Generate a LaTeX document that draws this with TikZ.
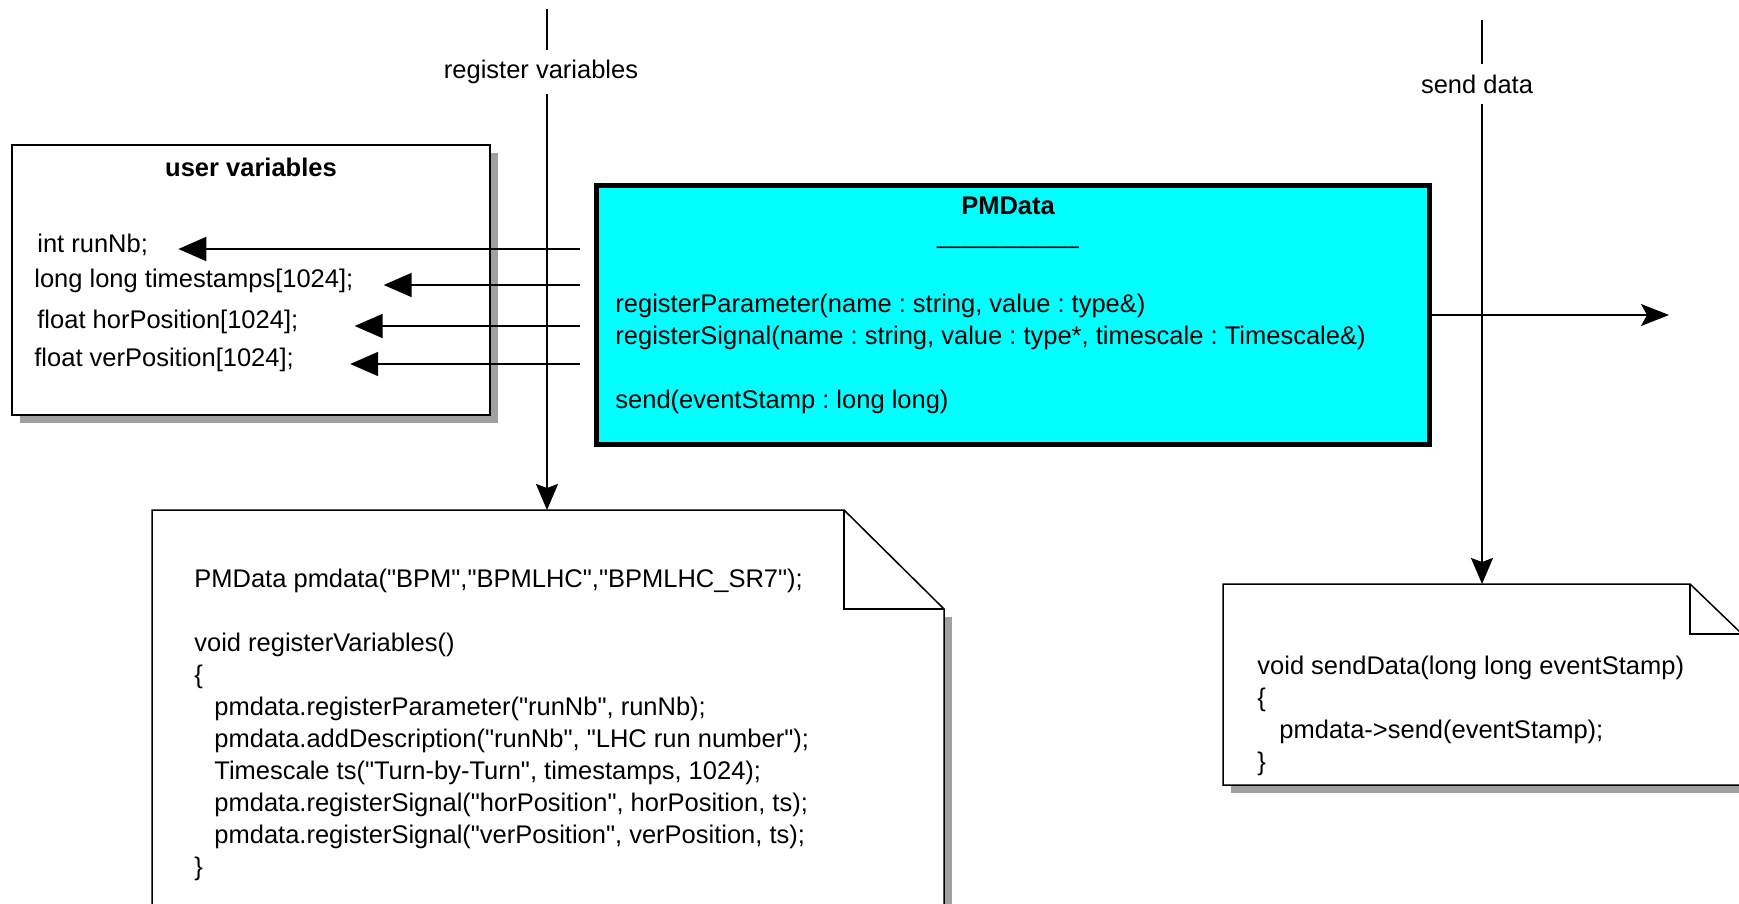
\documentclass[tikz,border=0pt]{standalone}
\usepackage{fontspec}
\setmainfont{Liberation Sans}
\usepackage{xcolor}
\definecolor{pmCyan}{HTML}{00FFFF}
\definecolor{pmShadow}{HTML}{A0A0A0}
\usetikzlibrary{arrows.meta,positioning,shadows,calc}
% straight double quote, kept out of the TeX quote mapping
\newcommand{\dq}{\XeTeXglyph\XeTeXcharglyph"22\relax}
\frenchspacing
\tikzset{
    txt/.style={
        inner sep=0pt,
        align=left,
        font=\fontsize{12.75pt}{16pt}\selectfont
    },
    boldtxt/.style={
        txt,
        font=\fontsize{12.75pt}{16pt}\selectfont\bfseries
    },
    varbox/.style={
        draw,
        line width=0.85pt,
        fill=white,
        minimum width=239pt,
        minimum height=135pt,
        drop shadow={shadow xshift=4pt, shadow yshift=-4pt, fill=pmShadow, opacity=1}
    },
    classbox/.style={
        draw,
        line width=2.6pt,
        fill=pmCyan,
        minimum width=416.5pt,
        minimum height=129.5pt
    },
    notebox/.style={
        draw,
        line width=0.75pt,
        fill=white
    },
    flowlabel/.style={
        txt,
        fill=white,
        inner xsep=2pt,
        inner ysep=5pt
    },
    getarrow/.style={
        -{Triangle[length=14pt, width=12pt]},
        line width=1pt
    },
    downarrow/.style={
        -{Stealth[length=13pt, width=11pt, inset=2pt]},
        line width=1pt
    },
    outarrow/.style={
        -{Stealth[length=14pt, width=11pt, inset=3pt]},
        line width=0.65pt
    }
}

\begin{document}
\begin{tikzpicture}[x=0.5pt, y=-0.5pt]
    \useasboundingbox (0,0) rectangle (1739,904);
    \clip (0,0) rectangle (1739,904);

    % User variables
    \node[varbox] (uservars) at (251,280) {};
    \node[boldtxt] (uvtitle) at (251,167) {user variables};
    \node[txt, anchor=base west] (runnb) at (37,252) {int runNb;};
    \node[txt, anchor=base west] (stamps) at (34,287) {long long timestamps[1024];};
    \node[txt, anchor=base west] (horpos) at (37,328) {float horPosition[1024];};
    \node[txt, anchor=base west] (verpos) at (34,366) {float verPosition[1024];};

    % PMData class
    \node[classbox] (pmdata) at (1013,315) {};
    \node[boldtxt] (pmtitle) at (1008,206) {PMData};
    \node[txt, anchor=base] (pmrule) at (1008,243) {\_\_\_\_\_\_\_\_\_\_};
    \node[txt, anchor=north west] (pmmethods) at (615,294) {registerParameter(name : string, value : type\&)\\
        registerSignal(name : string, value : type*, timescale : Timescale\&)\\[16pt]
        send(eventStamp : long long)};

    % Registration note
    \coordinate (codeNW) at (152,510);
    \fill[pmShadow] (160,617) rectangle (952,968);
    \draw[notebox] (152,510) -- (844,510) -- (944,609) -- (944,960) -- (152,960) -- cycle;
    \draw[notebox, fill=none] (844,510) -- (844,609) -- (944,609);
    \node[txt, anchor=north west] (regcode) at (194,569) {PMData pmdata(\dq BPM\dq,\dq BPMLHC\dq,\dq BPMLHC\_SR7\dq);\\[16pt]
        void registerVariables()\\
        \{\\
        \hspace*{10pt}pmdata.registerParameter(\dq runNb\dq, runNb);\\
        \hspace*{10pt}pmdata.addDescription(\dq runNb\dq, \dq LHC run number\dq);\\
        \hspace*{10pt}Timescale ts(\dq Turn-by-Turn\dq, timestamps, 1024);\\
        \hspace*{10pt}pmdata.registerSignal(\dq horPosition\dq, horPosition, ts);\\
        \hspace*{10pt}pmdata.registerSignal(\dq verPosition\dq, verPosition, ts);\\
        \}};

    % Send note
    \coordinate (sendNW) at (1223,584);
    \fill[pmShadow] (1231,644) rectangle (1750,793);
    \draw[notebox] (1223,584) -- (1690,584) -- (1742,634) -- (1742,785) -- (1223,785) -- cycle;
    \draw[notebox, fill=none] (1690,584) -- (1690,634) -- (1742,634);
    \node[txt, anchor=north west] (sendcode) at (1257,656) {void sendData(long long eventStamp)\\
        \{\\
        \hspace*{11pt}pmdata->send(eventStamp);\\
        \}};

    % Register variables flow
    \coordinate (regtop) at (547,9);
    \node[flowlabel] (reglabel) at (541,72) {register variables};
    \draw[line width=1pt] (regtop) -- (regtop |- reglabel.north);
    \draw[downarrow] (regtop |- reglabel.south) -- (regtop |- codeNW);

    % Send data flow
    \coordinate (sendtop) at (1482,20);
    \node[flowlabel] (sendlabel) at (1477,84) {send data};
    \draw[line width=1pt] (sendtop) -- (sendtop |- sendlabel.north);
    \draw[downarrow] (sendtop |- sendlabel.south) -- (sendtop |- sendNW);

    % Values into user variables
    \foreach \var/\ya/\gap in {runnb/249/30, stamps/285/30, horpos/326/56, verpos/364/56} {
        \draw[getarrow] ($(pmdata.west |- 0,\ya)+(-14,0)$) -- ($(\var.east |- 0,\ya)+(\gap,0)$);
    }

    % Output
    \coordinate (pmout) at (1669,315);
    \draw[outarrow] (pmdata.east) -- (pmout);
\end{tikzpicture}
\end{document}
